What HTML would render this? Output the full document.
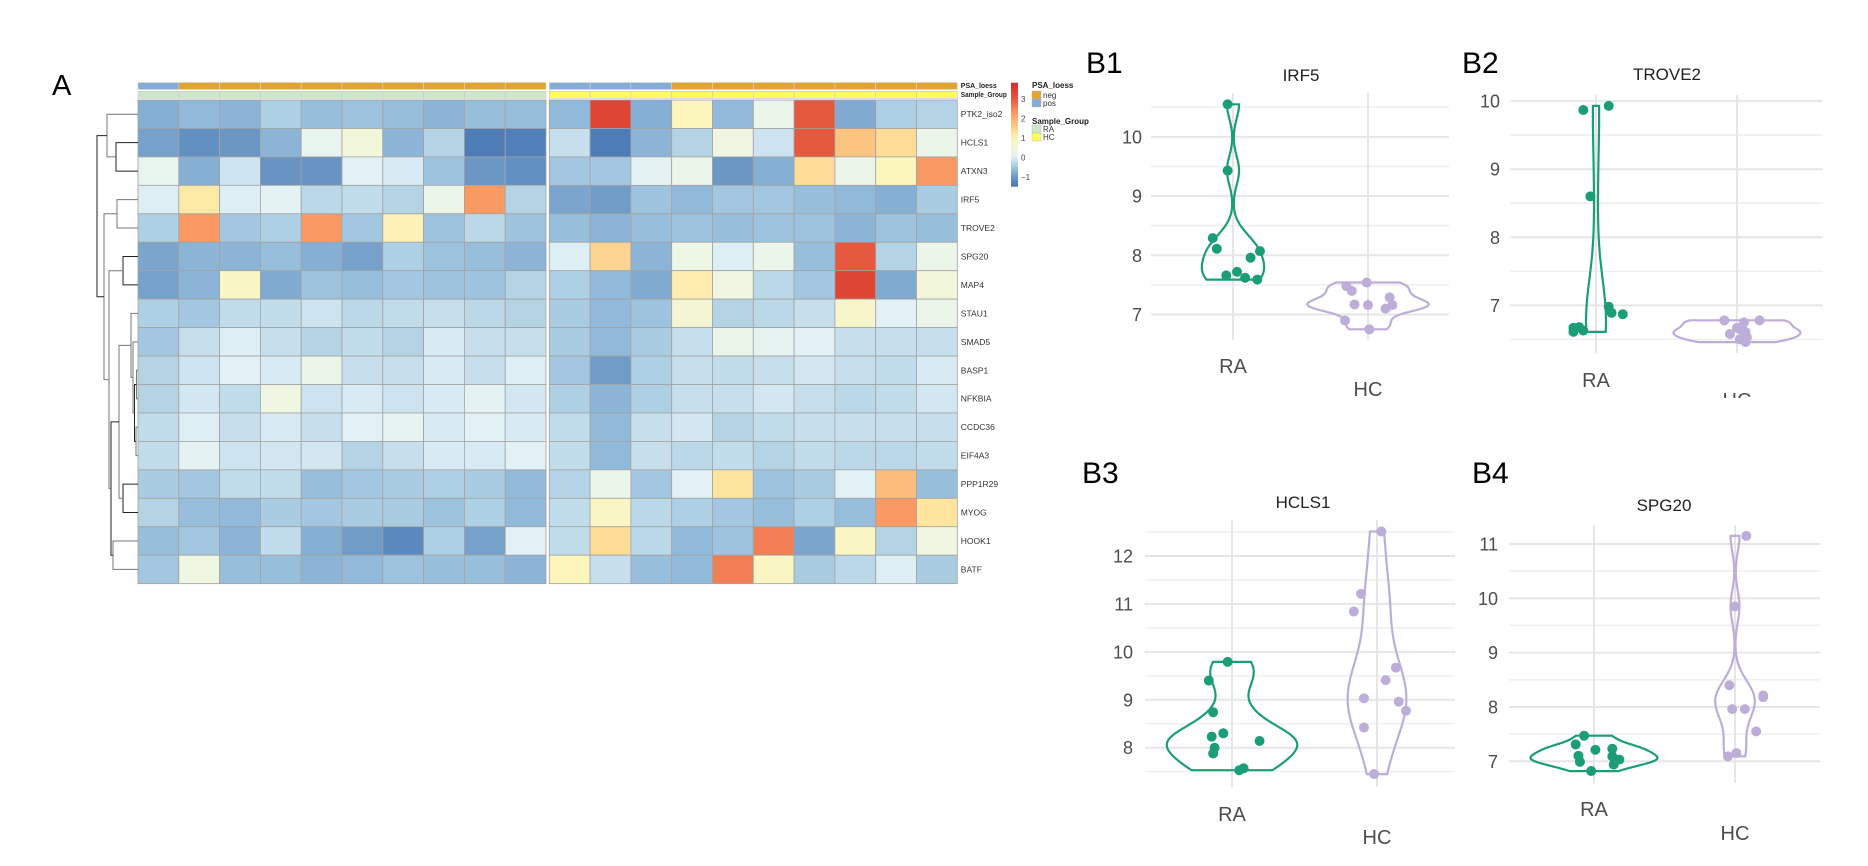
<!DOCTYPE html>
<html><head><meta charset="utf-8">
<style>
html,body{margin:0;padding:0;background:#fff;}
svg{display:block;font-family:"Liberation Sans",Arial,sans-serif;}
</style></head>
<body>
<svg id="fig" width="1868" height="866" viewBox="0 0 1868 866" xmlns="http://www.w3.org/2000/svg">
<defs>
<linearGradient id="cbar" x1="0" y1="1" x2="0" y2="0"></linearGradient>
<clipPath id="clipB2"><rect x="1440" y="40" width="428" height="358"/></clipPath>
</defs>
<text x="52" y="95" font-size="29" fill="#000">A</text>
<g id="heat"></g>
<g id="dendro"></g>
<g id="legend"></g>
<g id="violins"></g>
</svg>
<script>
const NS="http://www.w3.org/2000/svg";
// ---------- heatmap data ----------
const genes=["PTK2_iso2","HCLS1","ATXN3","IRF5","TROVE2","SPG20","MAP4","STAU1","SMAD5","BASP1","NFKBIA","CCDC36","EIF4A3","PPP1R29","MYOG","HOOK1","BATF"];
const heatLeft=[
[-0.75,-0.65,-0.7,-0.4,-0.6,-0.55,-0.6,-0.7,-0.6,-0.6],
[-0.9,-1.1,-1.0,-0.7,0.2,0.5,-0.7,-0.35,-1.4,-1.35],
[0.2,-0.75,-0.15,-1.05,-1.05,0.05,-0.05,-0.55,-1.0,-1.1],
[0.0,1.2,0.0,0.1,-0.3,-0.25,-0.35,0.3,2.3,-0.35],
[-0.4,2.3,-0.5,-0.4,2.3,-0.5,1.0,-0.55,-0.3,-0.55],
[-0.85,-0.7,-0.7,-0.6,-0.75,-0.9,-0.4,-0.55,-0.6,-0.7],
[-0.9,-0.7,0.8,-0.8,-0.55,-0.6,-0.5,-0.55,-0.55,-0.35],
[-0.4,-0.5,-0.25,-0.25,-0.15,-0.3,-0.25,-0.2,-0.3,-0.35],
[-0.5,-0.2,0.0,-0.2,-0.35,-0.25,-0.35,-0.05,-0.2,-0.2],
[-0.35,-0.15,0.05,-0.05,0.3,-0.2,-0.2,-0.05,-0.2,0.0],
[-0.35,-0.1,-0.25,0.4,-0.15,-0.05,-0.15,-0.05,0.1,-0.1],
[-0.25,0.0,-0.2,-0.05,-0.2,0.05,0.15,-0.05,0.05,-0.05],
[-0.25,0.1,-0.15,-0.1,-0.1,-0.35,-0.2,-0.05,-0.05,0.05],
[-0.45,-0.5,-0.25,-0.25,-0.6,-0.5,-0.45,-0.4,-0.45,-0.65],
[-0.35,-0.6,-0.65,-0.45,-0.5,-0.45,-0.45,-0.55,-0.4,-0.65],
[-0.6,-0.5,-0.7,-0.25,-0.75,-0.95,-1.2,-0.4,-0.9,0.05],
[-0.5,0.4,-0.6,-0.6,-0.7,-0.65,-0.55,-0.6,-0.6,-0.7]];
const heatRight=[
[-0.65,3.4,-0.75,0.9,-0.65,0.3,3.0,-0.8,-0.4,-0.35],
[-0.2,-1.4,-0.7,-0.35,0.4,-0.15,3.0,1.7,1.4,0.3],
[-0.5,-0.5,0.1,0.3,-1.0,-0.75,1.4,0.3,0.9,2.3],
[-0.85,-0.95,-0.55,-0.65,-0.5,-0.5,-0.6,-0.65,-0.75,-0.45],
[-0.6,-0.7,-0.6,-0.55,-0.6,-0.55,-0.55,-0.7,-0.55,-0.6],
[0.0,1.5,-0.7,0.35,0.0,0.3,-0.6,3.0,-0.35,0.3],
[-0.4,-0.65,-0.8,1.1,0.4,-0.3,-0.5,3.4,-0.8,0.5],
[-0.45,-0.65,-0.55,0.6,-0.35,-0.3,-0.2,0.7,0.05,0.3],
[-0.45,-0.65,-0.45,-0.2,0.3,0.15,0.05,-0.2,-0.2,-0.2],
[-0.5,-0.95,-0.4,-0.2,-0.25,-0.2,-0.1,-0.2,-0.25,-0.05],
[-0.4,-0.7,-0.4,-0.2,-0.2,-0.1,-0.2,-0.3,-0.25,-0.1],
[-0.25,-0.65,-0.2,-0.1,-0.35,-0.25,-0.2,-0.2,-0.2,-0.2],
[-0.25,-0.65,-0.2,-0.3,-0.25,-0.35,-0.25,-0.3,-0.3,-0.25],
[-0.35,0.3,-0.5,0.05,1.3,-0.55,-0.45,0.05,1.8,-0.6],
[-0.25,0.8,-0.3,-0.4,-0.5,-0.6,-0.4,-0.6,2.3,1.3],
[-0.25,1.4,-0.3,-0.65,-0.55,2.6,-0.85,0.8,-0.35,0.4],
[0.9,-0.2,-0.6,-0.65,2.6,0.8,-0.45,-0.3,0.0,-0.45]];
const psaLeft=["pos","neg","neg","neg","neg","neg","neg","neg","neg","neg"];
const psaRight=["pos","pos","pos","neg","neg","neg","neg","neg","neg","neg"];
const groupLeft="RA", groupRight="HC";
const cbTicks=[3,2,1,0,-1];
// dendrogram merges: [childA, childB, height]; leaves 0-16, merges numbered from 17
const merges=[[1,2,22],[0,17,31],[3,4,21],[5,6,15],[9,10,1.5],[11,12,2],[21,22,3.5],[8,23,5],[7,24,7],[13,14,15],[25,26,19],[15,16,25],[27,28,27],[20,29,29],[19,30,34],[18,31,41]];

const stops=[[-1.5,"#4575b4"],[-1.0,"#6b97c5"],[-0.75,"#85afd3"],[-0.55,"#9dc3de"],[-0.35,"#b4d4e6"],[-0.15,"#cde3ef"],[0.05,"#e2f1f6"],[0.35,"#eef6e6"],[0.9,"#fcf6bc"],[1.3,"#fde49f"],[1.7,"#fdc47f"],[2.3,"#fa9a63"],[3.0,"#e5593f"],[3.8,"#d73027"]];
function hex(c){return [1,3,5].map(i=>parseInt(c.substr(i,2),16));}
function cmap(v){
  if(v<=stops[0][0])return stops[0][1];
  for(let i=1;i<stops.length;i++){if(v<=stops[i][0]){const a=hex(stops[i-1][1]),b=hex(stops[i][1]);const t=(v-stops[i-1][0])/(stops[i][0]-stops[i-1][0]);return "rgb("+a.map((x,k)=>Math.round(x+(b[k]-x)*t)).join(",")+")";}}
  return stops[stops.length-1][1];}
function mk(tag,attrs,par){const e=document.createElementNS(NS,tag);for(const k in attrs)e.setAttribute(k,attrs[k]);par.appendChild(e);return e;}

const heat=document.getElementById("heat");
const cellW=40.8, cellH=28.45, hmTop=100, leftX=138, rightX=549.3;
const psaCol={neg:"#e0a42f",pos:"#84acd4"}, grpCol={RA:"#cde8c8",HC:"#ffff55"};
function block(data,psa,grp,x0){
  psa.forEach((p,j)=>{
    const r=mk("rect",{x:x0+j*cellW,y:82.5,width:cellW,height:7,fill:psaCol[p],stroke:"#d8d8d8","stroke-width":0.6},heat);
    
    
    const g=mk("rect",{x:x0+j*cellW,y:91.3,width:cellW,height:7,fill:grpCol[grp],stroke:"#c8c8c8","stroke-width":0.6},heat);
    
    
  });
  data.forEach((row,i)=>row.forEach((v,j)=>{
    const c=mk("rect",{x:x0+j*cellW,y:hmTop+i*cellH,width:cellW,height:cellH,fill:cmap(v),stroke:"#a3a3a3","stroke-width":0.8},heat);
    
    
  }));
}
block(heatLeft,psaLeft,groupLeft,leftX);
block(heatRight,psaRight,groupRight,rightX);
const labX=rightX+10*cellW+3.5;
genes.forEach((g,i)=>{
  const t=mk("text",{x:labX,y:hmTop+i*cellH+cellH/2+3,"font-size":8.5,fill:"#333"},heat);t.textContent=g;
  
  
});
[["PSA_loess",88,36],["Sample_Group",97,46]].forEach(([s,y,w])=>{const t=mk("text",{x:labX,y:y,"font-size":7.6,"font-weight":"bold",fill:"#222",textLength:w,lengthAdjust:"spacingAndGlyphs"},heat);t.textContent=s;
  
  });

// dendrogram
const dg=document.getElementById("dendro");
const nodeY=[],nodeX=[];
genes.forEach((g,i)=>{nodeY[i]=hmTop+cellH*(i+0.5);nodeX[i]=leftX;});
merges.forEach((m,k)=>{
  const id=17+k, x=leftX-m[2];
  nodeY[id]=(nodeY[m[0]]+nodeY[m[1]])/2; nodeX[id]=x;
  const p=mk("path",{d:`M${nodeX[m[0]]},${nodeY[m[0]]}H${x}V${nodeY[m[1]]}H${nodeX[m[1]]}`,fill:"none",stroke:k%3==0?"#222":"#777","stroke-width":1},dg);
  
  
});

// legend
const lg=document.getElementById("legend");
const grad=document.getElementById("cbar");
const cbMin=-1.5,cbMax=3.85,cbY0=186.7,cbY1=82.7;
for(let i=0;i<=20;i++){const v=cbMin+(cbMax-cbMin)*i/20;mk("stop",{offset:(i/20),"stop-color":cmap(v)},grad);}
const cb=mk("rect",{x:1011,y:cbY1,width:7,height:cbY0-cbY1,fill:"url(#cbar)"},lg);


const cbScale=v=>cbY0-(v-cbMin)/(cbMax-cbMin)*(cbY0-cbY1);
cbTicks.forEach(v=>{const t=mk("text",{x:1021,y:cbScale(v)+3,"font-size":8,fill:"#444"},lg);t.textContent=v<0?"\u2212"+(-v):String(v);
  
  });
const legItems=[["PSA_loess",85,null],["neg",95,psaCol.neg],["pos",103,psaCol.pos],["Sample_Group",121,null],["RA",129,grpCol.RA],["HC",137,grpCol.HC]];
legItems.forEach(([s,y,c])=>{
  if(c){const r=mk("rect",{x:1032,y:y-4,width:9,height:8,fill:c,stroke:"#bbb","stroke-width":0.5},lg);
    
    
    const t=mk("text",{x:1043,y:y+3,"font-size":8,fill:"#333"},lg);t.textContent=s;
    
    }
  else{const t=mk("text",{x:1032,y:y+3,"font-size":8,"font-weight":"bold",fill:"#222"},lg);t.textContent=s;
    
    }
});

// ---------- violin data ----------
const categories=["RA","HC"];
const b1RA=[10.55,9.43,8.29,8.11,8.07,7.96,7.66,7.72,7.62,7.59];
const b1HC=[7.48,7.4,7.54,7.17,7.16,7.29,7.16,7.1,6.9,6.75];
const b1RAjit=[-0.04,-0.04,-0.15,-0.12,0.2,0.13,-0.05,0.03,0.09,0.18];
const b1HCjit=[-0.16,-0.12,-0.01,-0.1,0,0.16,0.18,0.13,-0.17,0.01];
const b2RA=[9.87,9.93,8.6,6.98,6.89,6.87,6.67,6.68,6.63,6.61];
const b2HC=[6.78,6.78,6.75,6.67,6.64,6.61,6.58,6.53,6.5,6.46];
const b2RAjit=[-0.09,0.09,-0.04,0.09,0.11,0.19,-0.16,-0.12,-0.09,-0.16];
const b2HCjit=[-0.09,0.16,0.05,0.0,0.03,0.06,-0.05,0.07,0.02,0.06];
const b3RA=[9.79,9.4,8.74,8.23,8.3,8.14,8.0,7.88,7.53,7.57];
const b3HC=[12.51,11.21,10.84,9.67,9.41,9.03,8.96,8.77,8.42,7.45];
const b3RAjit=[-0.03,-0.16,-0.13,-0.14,-0.06,0.19,-0.12,-0.13,0.05,0.08];
const b3HCjit=[0.03,-0.11,-0.16,0.13,0.06,-0.09,0.15,0.2,-0.09,-0.02];
const b4RA=[7.47,7.31,7.21,7.23,7.1,6.99,7.09,7.03,6.94,6.82];
const b4HC=[11.15,9.85,8.4,8.21,8.18,7.96,7.96,7.55,7.15,7.09];
const b4RAjit=[-0.07,-0.13,0.01,0.13,-0.11,-0.1,0.13,0.18,0.14,-0.02];
const b4HCjit=[0.08,0,-0.04,0.2,0.2,-0.02,0.07,0.15,0.01,-0.05];
const b1Ticks=[7,8,9,10], b2Ticks=[7,8,9,10], b3Ticks=[8,9,10,11,12], b4Ticks=[7,8,9,10,11];
const titles=["IRF5","TROVE2","HCLS1","SPG20"];

const panels=[
 {lab:"B1",labX:1086,labY:73,title:titles[0],titleX:1301,titleY:81,x0:1151,x1:1449,yTop:93,yBot:340,dom:[6.57,10.74],cx:[1233,1368],tickX:1142,catY:[366,389],ra:b1RA,hc:b1HC,raj:b1RAjit,hcj:b1HCjit,ticks:b1Ticks},
 {lab:"B2",labX:1462,labY:73,title:titles[1],titleX:1667,titleY:80,x0:1510,x1:1823,yTop:95,yBot:353,dom:[6.3,10.09],cx:[1596,1737],tickX:1500,catY:[380,400],ra:b2RA,hc:b2HC,raj:b2RAjit,hcj:b2HCjit,ticks:b2Ticks,clip:true},
 {lab:"B3",labX:1082,labY:483,title:titles[2],titleX:1303,titleY:508,x0:1145,x1:1455,yTop:520,yBot:787,dom:[7.18,12.75],cx:[1232,1377],tickX:1133,catY:[814,837],ra:b3RA,hc:b3HC,raj:b3RAjit,hcj:b3HCjit,ticks:b3Ticks},
 {lab:"B4",labX:1472,labY:483,title:titles[3],titleX:1664,titleY:511,x0:1509,x1:1820,yTop:525,yBot:783,dom:[6.6,11.35],cx:[1594,1735],tickX:1498,catY:[809,833],ra:b4RA,hc:b4HC,raj:b4RAjit,hcj:b4HCjit,ticks:b4Ticks}
];
const vg=document.getElementById("violins");
const green="#1b9e77", purple="#bcaed8";
function kde(data){
  const n=data.length,mean=data.reduce((a,b)=>a+b)/n;
  const sd=Math.sqrt(data.reduce((a,b)=>a+(b-mean)**2,0)/(n-1));
  const s=[...data].sort((a,b)=>a-b);
  const q=p=>{const h=(n-1)*p,l=Math.floor(h);return s[l]+(s[Math.min(l+1,n-1)]-s[l])*(h-l);};
  const iqr=(q(0.75)-q(0.25))/1.34;
  const bw=0.9*Math.min(sd,iqr>0?iqr:sd)*Math.pow(n,-0.2);
  const lo=s[0],hi=s[n-1],pts=[];
  for(let i=0;i<=200;i++){const x=lo+(hi-lo)*i/200;let d=0;data.forEach(v=>{const z=(x-v)/bw;d+=Math.exp(-0.5*z*z);});pts.push([x,d/(n*bw*Math.sqrt(2*Math.PI))]);}
  return pts;
}
panels.forEach((P,pi)=>{
  const g=mk("g",P.clip?{"clip-path":"url(#clipB2)"}:{},vg);
  
  
  const y=v=>P.yBot-(v-P.dom[0])/(P.dom[1]-P.dom[0])*(P.yBot-P.yTop);
  for(let v=Math.ceil(P.dom[0]*2)/2; v<=P.dom[1]; v+=0.5){
    const major=Math.abs(v-Math.round(v))<1e-6;
    const l=mk("line",{x1:P.x0,x2:P.x1,y1:y(v),y2:y(v),stroke:major?"#e6e6e6":"#efefef","stroke-width":major?2:1.6},g);
    
    
  }
  P.cx.forEach(cx=>{const l=mk("line",{x1:cx,x2:cx,y1:P.yTop,y2:P.yBot,stroke:"#e6e6e6","stroke-width":2},g);
    
    });
  P.ticks.forEach(v=>{const t=mk("text",{x:P.tickX,y:y(v)+6.5,"text-anchor":"end","font-size":18,fill:"#4d4d4d"},g);t.textContent=v;
    
    });
  const kR=kde(P.ra),kH=kde(P.hc);
  const maxD=Math.max(...kR.map(p=>p[1]),...kH.map(p=>p[1]));
  const hw=0.45*(P.cx[1]-P.cx[0]);
  [[kR,P.cx[0],green,"ra"],[kH,P.cx[1],purple,"hc"]].forEach(([k,cx,col,nm])=>{
    let d="M"+k.map(p=>`${(cx+p[1]/maxD*hw).toFixed(1)},${y(p[0]).toFixed(1)}`).join("L");
    d+="L"+k.slice().reverse().map(p=>`${(cx-p[1]/maxD*hw).toFixed(1)},${y(p[0]).toFixed(1)}`).join("L")+"Z";
    const v=mk("path",{d:d,fill:"none",stroke:col,"stroke-width":2.2},g);
    
    
  });
  const sp=P.cx[1]-P.cx[0];
  P.ra.forEach((v,i)=>{const c=mk("circle",{cx:P.cx[0]+P.raj[i]*sp,cy:y(v),r:5,fill:green},g);
    
    });
  P.hc.forEach((v,i)=>{const c=mk("circle",{cx:P.cx[1]+P.hcj[i]*sp,cy:y(v),r:5,fill:purple},g);
    
    });
  categories.forEach((c,i)=>{const t=mk("text",{x:P.cx[i],y:P.catY[i]+7,"text-anchor":"middle","font-size":20,fill:"#4d4d4d"},g);t.textContent=c;
    
    });
  const tt=mk("text",{x:P.titleX,y:P.titleY,"text-anchor":"middle","font-size":17,fill:"#222"},vg);tt.textContent=P.title;
  
  
  const lb=mk("text",{x:P.labX,y:P.labY,"font-size":30,fill:"#000"},vg);lb.textContent=P.lab;
  
  
});
</script>
</body></html>
